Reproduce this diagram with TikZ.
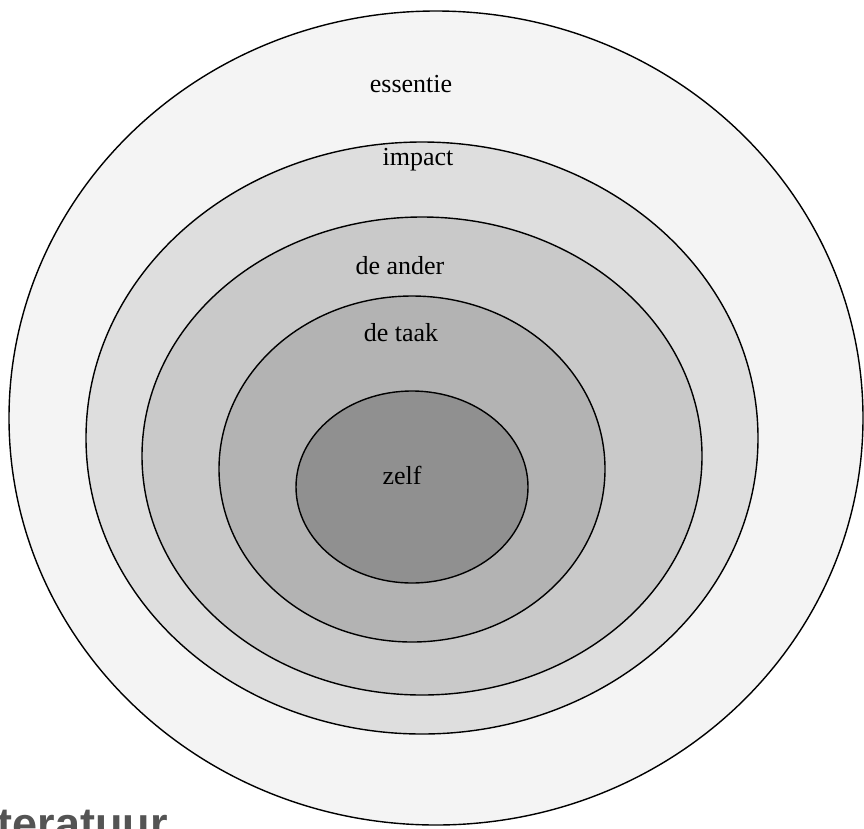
\documentclass[tikz,border=0pt]{standalone}
\usepackage{fontspec}
\setmainfont{Liberation Serif}
\newfontfamily\headfont{Liberation Sans}
\definecolor{ringA}{HTML}{F4F4F4}
\definecolor{ringB}{HTML}{DEDEDE}
\definecolor{ringC}{HTML}{C9C9C9}
\definecolor{ringD}{HTML}{B3B3B3}
\definecolor{ringE}{HTML}{909090}
\begin{document}
\begin{tikzpicture}[x=1pt,y=-1pt]
    \useasboundingbox (0,0) rectangle (864,828);
    \clip (0,0) rectangle (864,828);
    \begin{scope}[line width=1.4pt,font=\fontsize{26}{30}\selectfont]
    % Rings:
    % Drawn from the outside in, every one filled with a darker grey:
    \foreach \cx/\cy/\rx/\ry/\col in {
            436/418/427/407/ringA,
            422/438/336/296/ringB,
            422/456/280/239/ringC,
            412/469/193/173/ringD,
            412/487/116/96/ringE}
        \draw[fill=\col] (\cx,\cy) ellipse [x radius=\rx pt, y radius=\ry pt];

    % Labels of the rings:
    \node (essentie) at (411,84)  {essentie};
    \node (impact)   at (418,160) {impact};
    \node (ander)    at (400,266) {de ander};
    \node (taak)     at (401,333) {de taak};
    \node (zelf)     at (402,475) {zelf};
    \end{scope}

    % Heading below, cut off by the page:
    \node[anchor=base east,inner sep=0pt,text=black!67,font=\headfont\bfseries\fontsize{45}{50}\selectfont]
        (heading) at (168,839) {Literatuur};
\end{tikzpicture}
\end{document}
